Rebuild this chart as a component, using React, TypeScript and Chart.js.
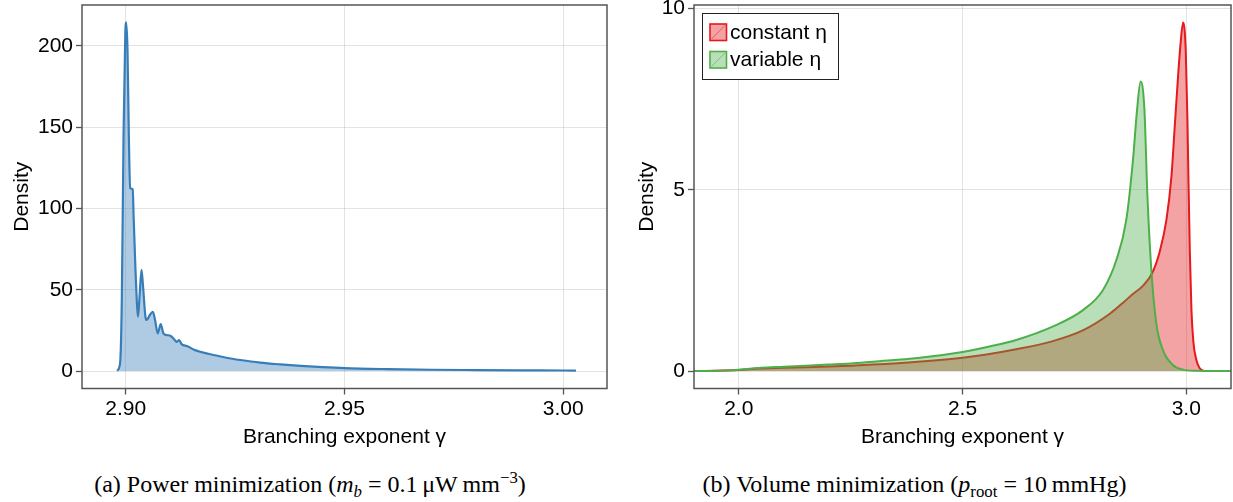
import React, { useEffect, useRef } from "react";
import { Chart, registerables } from "chart.js";

Chart.register(...registerables);

// ---------- Panel (a): power minimization ----------
const gammaA = [2.898, 2.8987, 2.8991, 2.8995, 2.8999, 2.9001, 2.9004, 2.9007, 2.901, 2.9016, 2.9018, 2.9022, 2.9026, 2.9028, 2.9032, 2.9036, 2.9039, 2.9045, 2.9048, 2.9055, 2.9062, 2.9067, 2.9073, 2.908, 2.9086, 2.9093, 2.9103, 2.9112, 2.9117, 2.9122, 2.9128, 2.914, 2.9155, 2.917, 2.9201, 2.923, 2.9262, 2.9307, 2.9353, 2.94, 2.945, 2.95, 2.96, 2.97, 2.98, 2.99, 3.0, 3.0029];
const densityA = [0.2, 4.7, 43.7, 146, 208, 214.6, 197.7, 146, 112.5, 111.9, 95, 64.2, 39.6, 33.4, 47.8, 62.2, 54, 33.4, 31.4, 34.5, 36.5, 31.4, 23.2, 28.9, 23.2, 22.2, 21.6, 19.1, 18, 19.1, 16.4, 15.4, 13.3, 11.9, 9.9, 8.2, 6.8, 5.2, 4.1, 3.2, 2.4, 1.8, 1.2, 0.8, 0.6, 0.45, 0.35, 0.3];
const xTicksA = [2.9, 2.95, 3.0];
const yTicksA = [0, 50, 100, 150, 200];
const xRangeA = [2.89, 3.01];
const yRangeA = [-10.73, 225.2];

// ---------- Panel (b): volume minimization ----------
const seriesLabelsB = ["constant η", "variable η"];
const gammaConst = [1.9, 1.95, 2.0, 2.05, 2.1, 2.2, 2.25, 2.3, 2.4, 2.5, 2.55, 2.62, 2.7, 2.77, 2.83, 2.86, 2.88, 2.9036, 2.9237, 2.9408, 2.9557, 2.9669, 2.9743, 2.9817, 2.987, 2.993, 2.999, 3.0027, 3.0045, 3.008, 3.0116, 3.016, 3.0228, 3.03, 3.04];
const densityConst = [0.0, 0.01, 0.03, 0.07, 0.09, 0.13, 0.15, 0.18, 0.26, 0.37, 0.45, 0.6, 0.82, 1.13, 1.59, 1.9, 2.12, 2.36, 2.7, 3.3, 4.17, 5.37, 6.75, 8.13, 9.0, 9.62, 8.8, 6.9, 5.6, 3.3, 1.69, 0.8, 0.3, 0.08, 0.0];
const gammaVar = [1.9, 1.95, 2.0, 2.05, 2.1, 2.2, 2.25, 2.3, 2.4, 2.5, 2.56, 2.62, 2.7, 2.77, 2.814, 2.844, 2.866, 2.881, 2.89, 2.898, 2.9066, 2.913, 2.922, 2.933, 2.948, 2.97, 2.993, 3.02, 3.1];
const densityVar = [0.0, 0.01, 0.04, 0.09, 0.12, 0.18, 0.21, 0.26, 0.36, 0.53, 0.68, 0.86, 1.22, 1.69, 2.24, 3.07, 4.17, 5.83, 7.2, 7.99, 7.2, 4.9, 2.79, 1.32, 0.58, 0.17, 0.04, 0.01, 0.0];
const xTicksB = [2.0, 2.5, 3.0];
const yTicksB = [0, 5, 10];
const xRangeB = [1.9, 3.1];
const yRangeB = [-0.48, 10.1];

const axisTitleX = "Branching exponent γ";
const axisTitleY = "Density";

const FONT = "'Liberation Sans', Arial, sans-serif";
const FRAME = "#555555";
const GRID = "rgba(0,0,0,0.11)";
const BLUE = "#377eb8";
const RED = "#e41a1c";
const GREEN = "#4daf4a";

Chart.defaults.font.family = FONT;
Chart.defaults.color = "#000";

const framePlugin = {
  id: "frame",
  afterDraw(chart: any) {
    const { ctx, chartArea: a } = chart;
    ctx.save();
    ctx.strokeStyle = FRAME;
    ctx.lineWidth = 1.5;
    ctx.strokeRect(a.left, a.top, a.right - a.left, a.bottom - a.top);
    ctx.restore();
  },
};

const boxLegendPlugin = {
  id: "boxLegend",
  afterDraw(chart: any, _args: any, opts: any) {
    if (!opts || !opts.show) return;
    const { ctx, chartArea: a } = chart;
    const x0 = Math.round(a.left + 8) + 0.5;
    const y0 = Math.round(a.top + 8) + 0.5;
    const w = 136;
    const h = 66;
    ctx.save();
    ctx.fillStyle = "#fff";
    ctx.fillRect(x0, y0, w, h);
    ctx.strokeStyle = "#222";
    ctx.lineWidth = 1;
    ctx.strokeRect(x0, y0, w, h);
    const items = [...chart.data.datasets].sort((p: any, q: any) => p.legendIndex - q.legendIndex);
    items.forEach((ds: any, i: number) => {
      const s = 16.5;
      const sx = x0 + 7.5;
      const sy = y0 + 10.5 + i * 27.5;
      ctx.fillStyle = "#fff";
      ctx.fillRect(sx, sy, s, s);
      ctx.fillStyle = ds.backgroundColor;
      ctx.fillRect(sx, sy, s, s);
      ctx.strokeStyle = ds.borderColor;
      ctx.lineWidth = 1.6;
      ctx.strokeRect(sx, sy, s, s);
      ctx.globalAlpha = 0.55;
      ctx.lineWidth = 1;
      ctx.beginPath();
      ctx.moveTo(sx + 1.5, sy + s - 1.5);
      ctx.lineTo(sx + s - 1.5, sy + 1.5);
      ctx.stroke();
      ctx.globalAlpha = 1;
      ctx.fillStyle = "#000";
      ctx.font = `21px ${FONT}`;
      ctx.textBaseline = "middle";
      ctx.textAlign = "left";
      ctx.fillText(ds.label, x0 + 27.5, sy + s / 2 + 0.5);
    });
    ctx.restore();
  },
};

function axisOptions(
  range: number[],
  ticks: number[],
  decimals: number,
  horizontal: boolean,
  size: number,
  titlePad: any
) {
  return {
    type: "linear",
    position: horizontal ? "bottom" : "left",
    min: range[0],
    max: range[1],
    afterBuildTicks: (s: any) => {
      s.ticks = ticks.map((v) => ({ value: v }));
    },
    afterFit: (s: any) => {
      if (horizontal) s.height = size;
      else s.width = size;
      s.paddingTop = 0;
      s.paddingBottom = 0;
      s.paddingLeft = 0;
      s.paddingRight = 0;
    },
    ticks: {
      callback: (v: any) => Number(v).toFixed(decimals),
      font: { size: 21 },
      color: "#000",
      padding: horizontal ? 2 : 3,
      maxRotation: 0,
      autoSkip: false,
    },
    grid: {
      color: GRID,
      lineWidth: 1,
      tickColor: FRAME,
      tickLength: 6,
      tickWidth: 1.3,
    },
    border: { display: false },
    title: {
      display: true,
      text: horizontal ? axisTitleX : axisTitleY,
      font: { size: 21, lineHeight: 1.2 },
      color: "#000",
      padding: titlePad,
    },
  };
}

function pts(xs: number[], ys: number[]) {
  return xs.map((x, i) => ({ x, y: ys[i] }));
}

export default function App() {
  const refA = useRef<HTMLCanvasElement>(null);
  const refB = useRef<HTMLCanvasElement>(null);

  useEffect(() => {
    const chartA = new Chart(refA.current as HTMLCanvasElement, {
      type: "line",
      data: {
        datasets: [
          {
            label: "Power minimization",
            data: pts(gammaA, densityA),
            borderColor: BLUE,
            backgroundColor: "rgba(55,126,184,0.4)",
            fill: "origin",
            borderWidth: 2.2,
            pointRadius: 0,
            cubicInterpolationMode: "monotone",
          } as any,
        ],
      },
      options: {
        responsive: false,
        animation: false,
        devicePixelRatio: 1,
        layout: { padding: { top: 5, right: 13, bottom: 0, left: 0 } },
        plugins: { legend: { display: false }, tooltip: { enabled: false } },
        scales: {
          x: axisOptions(xRangeA, xTicksA, 2, true, 71.5, { top: 0, bottom: 10.4 }),
          y: axisOptions(yRangeA, yTicksA, 0, false, 82, { top: 9.4, bottom: 0 }),
        } as any,
      },
      plugins: [framePlugin],
    });

    const chartB = new Chart(refB.current as HTMLCanvasElement, {
      type: "line",
      data: {
        datasets: [
          {
            label: seriesLabelsB[1],
            legendIndex: 1,
            order: 1,
            data: pts(gammaVar, densityVar),
            borderColor: GREEN,
            backgroundColor: "rgba(77,175,74,0.4)",
            fill: "origin",
            borderWidth: 2,
            pointRadius: 0,
            cubicInterpolationMode: "monotone",
          } as any,
          {
            label: seriesLabelsB[0],
            legendIndex: 0,
            order: 2,
            data: pts(gammaConst, densityConst),
            borderColor: RED,
            backgroundColor: "rgba(228,26,28,0.4)",
            fill: "origin",
            borderWidth: 2,
            pointRadius: 0,
            cubicInterpolationMode: "monotone",
          } as any,
        ],
      },
      options: {
        responsive: false,
        animation: false,
        devicePixelRatio: 1,
        layout: { padding: { top: 5, right: 2, bottom: 0, left: 0 } },
        plugins: {
          legend: { display: false },
          tooltip: { enabled: false },
          boxLegend: { show: true },
        } as any,
        scales: {
          x: axisOptions(xRangeB, xTicksB, 1, true, 71.5, { top: 0, bottom: 10.4 }),
          y: axisOptions(yRangeB, yTicksB, 0, false, 74, { top: 14.4, bottom: 0 }),
        } as any,
      },
      plugins: [framePlugin, boxLegendPlugin],
    });

    return () => {
      chartA.destroy();
      chartB.destroy();
    };
  }, []);

  const capStyle: React.CSSProperties = {
    position: "absolute",
    top: 470,
    fontFamily: "'Liberation Serif', 'Times New Roman', serif",
    fontSize: 24,
    lineHeight: "28px",
    textAlign: "center",
    whiteSpace: "nowrap",
    color: "#000",
  };
  const subStyle: React.CSSProperties = {
    fontSize: "70%",
    lineHeight: 0,
    verticalAlign: "baseline",
    position: "relative",
    top: "0.3em",
  };
  const supStyle: React.CSSProperties = {
    fontSize: "70%",
    lineHeight: 0,
    verticalAlign: "baseline",
    position: "relative",
    top: "-0.55em",
  };
  const thin = "\u2009";

  return (
    <div style={{ position: "absolute", left: 0, top: 0, width: 1233, height: 502, background: "#fff", overflow: "hidden" }}>
      <canvas ref={refA} width={620} height={460} style={{ position: "absolute", left: 0, top: 0, width: 620, height: 460 }} />
      <canvas ref={refB} width={613} height={460} style={{ position: "absolute", left: 620, top: 0, width: 613, height: 460 }} />
      <div style={{ ...capStyle, left: 0, width: 620 }}>
        (a) Power minimization (<i>m</i>
        <span style={{ ...subStyle, fontStyle: "italic" }}>b</span> = 0.1{thin}μW{thin}mm
        <span style={supStyle}>−3</span>)
      </div>
      <div style={{ ...capStyle, left: 608, width: 613 }}>
        (b) Volume minimization (<i>p</i>
        <span style={subStyle}>root</span> = 10{thin}mmHg)
      </div>
    </div>
  );
}
